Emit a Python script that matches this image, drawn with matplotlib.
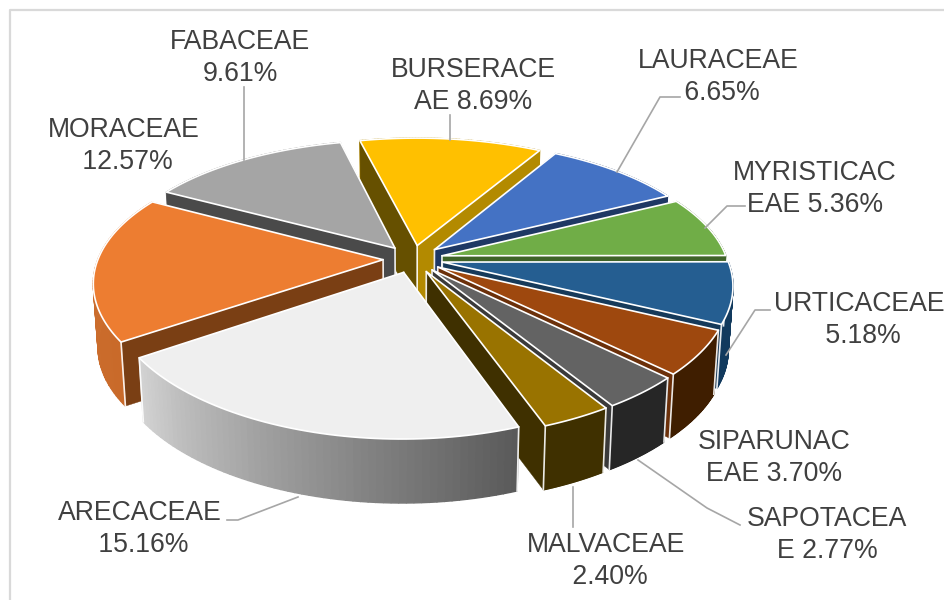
import numpy as np
import matplotlib
matplotlib.use('Agg')
import matplotlib.pyplot as plt
from matplotlib.colors import to_rgb
from matplotlib.patches import Polygon

# clockwise from the start angle
families = ['BURSERACEAE', 'LAURACEAE', 'MYRISTICACEAE', 'URTICACEAE', 'SIPARUNACEAE',
            'SAPOTACEAE', 'MALVACEAE', 'ARECACEAE', 'MORACEAE', 'FABACEAE']
values = [8.69, 6.65, 5.36, 5.18, 3.70, 2.77, 2.40, 15.16, 12.57, 9.61]

top_colors = ['#FFC000', '#4472C4', '#70AD47', '#255E91', '#9E480E',
              '#636363', '#997300', '#EFEFEF', '#ED7D31', '#A5A5A5']
left_walls = ['#665000', '#1F3864', '#3F6328', '#163A5A', '#6B300A',
              '#3A3A3A', '#3F3000', '#777777', '#7A3F14', '#4A4A4A']
right_walls = ['#B38A00', '#1F3864', '#3F6328', '#163A5A', '#6B300A',
               '#3A3A3A', '#3F3000', '#606060', '#7A3F14', '#4A4A4A']
wall_start = ['#B38A00', '#1F3864', '#3F6328', '#123A5E', '#3F1E00',
              '#262626', '#3F3000', '#5A5A5A', '#C96A2A', '#777777']
wall_end = ['#B38A00', '#1F3864', '#3F6328', '#123A5E', '#3F1E00',
            '#262626', '#3F3000', '#D2D2D2', '#CE7030', '#777777']

# the leading spaces push those percentages a little right, as in the original
labels = ['BURSERACE\nAE 8.69%', 'LAURACEAE\n 6.65%', 'MYRISTICAC\nEAE 5.36%', 'URTICACEAE\n 5.18%',
          'SIPARUNAC\nEAE 3.70%', 'SAPOTACEA\nE 2.77%', 'MALVACEAE\n 2.40%', 'ARECACEAE\n 15.16%',
          'MORACEAE\n 12.57%', 'FABACEAE\n9.61%']
label_pos = [(473, 86), (718, 77), (815, 189), (859, 320), (774, 458),
             (827, 535), (606, 561), (140, 529), (124, 146), (240, 58)]
leaders = [[(450, 115), (450, 140)],
           [(680, 97), (660, 97), (617, 172)],
           [(745, 206), (727, 206), (705, 228)],
           [(770, 310), (755, 310), (726, 355)],
           [],
           [(740, 525), (707, 508), (638, 460)],
           [(573, 487), (573, 527)],
           [(227, 520), (238, 520), (298, 497)],
           [],
           [(244, 87), (244, 160)]]

START = -13.5
CX, CY = 413, 259
R, K = 285, 0.4606
PX, PY = 0.16, 0.18
EXPLODE = 0.105
DEPTH = 64


def project(u, v):
    return CX + R * u / (1 + PX * v), CY - R * K * v / (1 + PY * v)


def drop(x, y):
    return CX + (x - CX) * 0.985, y + DEPTH


def outer_wall(arc, t, c0, c1, front, z):
    # only the quads that face the viewer (front) or the ones that do not
    for k in range(len(arc) - 1):
        if (np.cos(t[k]) < 0) != front:
            continue
        c = c0 + (c1 - c0) * k / (len(arc) - 2)
        ax.add_patch(Polygon([arc[k], arc[k + 1], drop(*arc[k + 1]), drop(*arc[k])],
                             fc=c, ec=c, lw=1.0, zorder=z))


fig = plt.figure(figsize=(9.45, 6), dpi=100)
ax = fig.add_axes([0, 0, 1, 1])
ax.set_xlim(0, 945)
ax.set_ylim(600, 0)
ax.axis('off')

ax.plot([10, 10, 945], [600, 10, 10], color='#D9D9D9', lw=1.6, zorder=0)

sweep = np.array(values) / sum(values) * 360
edges = START + np.concatenate([[0], np.cumsum(sweep)])
mids = np.radians((edges[:-1] + edges[1:]) / 2)
order = np.argsort(-np.cos(mids))

z = 1
for i in order:
    ex, ey = EXPLODE * np.sin(mids[i]), EXPLODE * np.cos(mids[i])
    t = np.radians(np.linspace(edges[i], edges[i + 1], 60))
    arc = [project(ex + np.sin(a), ey + np.cos(a)) for a in t]
    tip = project(ex, ey)
    tip_d = drop(*tip)
    c0, c1 = np.array(to_rgb(wall_start[i])), np.array(to_rgb(wall_end[i]))

    outer_wall(arc, t, c0, c1, False, z)
    z += 1

    # radial walls
    for end, color in ((arc[0], left_walls[i]), (arc[-1], right_walls[i])):
        ax.add_patch(Polygon([tip, end, drop(*end), tip_d], fc=color, ec=color, lw=0.3, zorder=z))
        z += 1

    outer_wall(arc, t, c0, c1, True, z)
    z += 1

    # white lines on the wall corners, front slices only
    corners = [tip]
    if np.cos(mids[i]) < 0.2:
        corners += [arc[0], arc[-1]]
    for end in corners:
        d = drop(*end)
        ax.plot([end[0], d[0]], [end[1], d[1]], color='white', lw=1.2, alpha=0.9, zorder=z)
    z += 1

    ax.add_patch(Polygon([tip] + arc, fc=top_colors[i], ec='white', lw=1.2, joinstyle='round', zorder=z))
    z += 1

for line in leaders:
    if line:
        xs, ys = zip(*line)
        ax.plot(xs, ys, color='#A6A6A6', lw=1.2, zorder=z)

for text, (x, y) in zip(labels, label_pos):
    ax.text(x, y, text, ha='center', va='center', ma='center', family='Liberation Sans',
            fontsize=19.2, color='#404040', linespacing=1.28, zorder=z + 1)

plt.savefig('out.png', dpi=100)
